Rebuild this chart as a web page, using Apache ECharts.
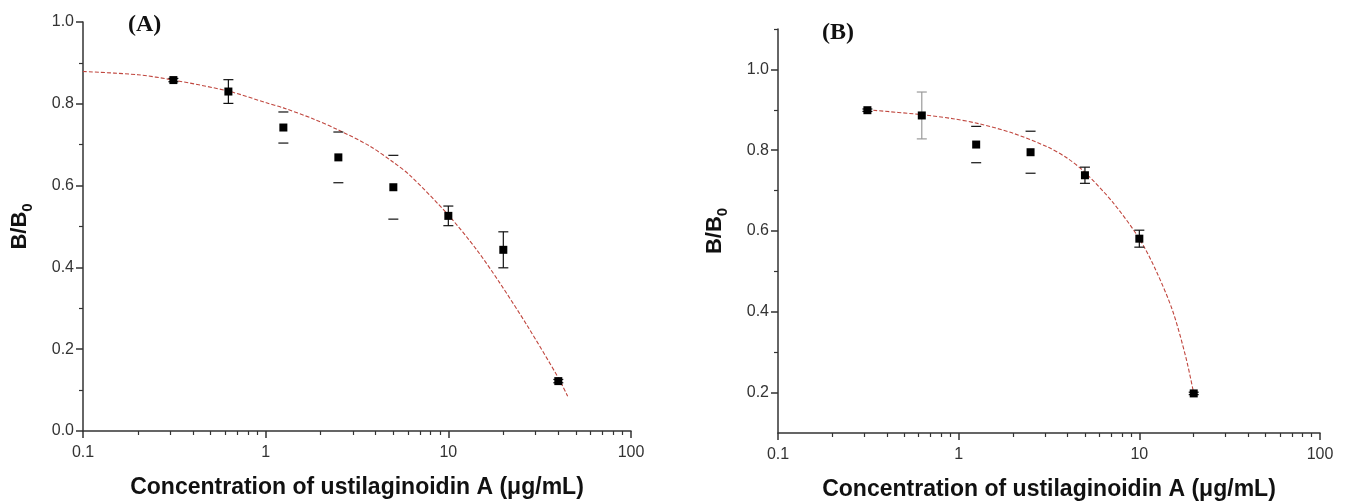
<!DOCTYPE html>
<html>
<head>
<meta charset="utf-8">
<script src="https://cdn.jsdelivr.net/npm/echarts@6/dist/echarts.min.js"></script>
<style>
  html, body { margin: 0; padding: 0; background: #fff; }
  #chart { width: 1349px; height: 501px; }
</style>
</head>
<body>
<div id="chart"></div>
<script>
// panel A - measured points (concentration, B/B0, half error bar)
var concA = [0.3125, 0.625, 1.25, 2.5, 5, 10, 20, 40];
var ratioA = [0.858, 0.830, 0.742, 0.669, 0.596, 0.526, 0.443, 0.122];
var errA = [0.004, 0.029, 0.038, 0.062, 0.078, 0.024, 0.044, 0.004];
var stemA = [1, 1, 0, 0, 0, 1, 1, 1]; // 0 = only the caps show in the figure
// panel A - fitted curve
var fitXA = [0.1, 0.2, 0.3125, 0.625, 1, 1.25, 1.8, 2.5, 3.7, 5, 6.2, 10, 14.3, 19, 27, 40, 45];
var fitYA = [0.879, 0.871, 0.858, 0.831, 0.803, 0.79, 0.764, 0.736, 0.697, 0.657, 0.624, 0.528, 0.443, 0.364, 0.258, 0.13, 0.085];

// panel B
var concB = [0.3125, 0.625, 1.25, 2.5, 5, 10, 20];
var ratioB = [0.899, 0.886, 0.814, 0.795, 0.738, 0.581, 0.198];
var errB = [0.003, 0.058, 0.045, 0.052, 0.02, 0.021, 0.003];
var stemB = [1, 2, 0, 0, 1, 1, 1]; // 2 = grey bar
var fitXB = [0.3125, 0.625, 0.93, 1.31, 2, 3.1, 4, 5, 7.1, 10, 12.4, 15.3, 18.1, 20];
var fitYB = [0.9, 0.888, 0.878, 0.865, 0.842, 0.808, 0.78, 0.745, 0.672, 0.581, 0.501, 0.402, 0.287, 0.198];

// ticks
var xMinor = [0.2, 0.3, 0.4, 0.5, 0.6, 0.7, 0.8, 0.9, 2, 3, 4, 5, 6, 7, 8, 9, 20, 30, 40, 50, 60, 70, 80, 90];
var yTicksB = [0.2, 0.4, 0.6, 0.8, 1.0];
var yMinorB = [0.3, 0.5, 0.7, 0.9, 1.1];

var xName = 'Concentration of ustilaginoidin A (\u03bcg/mL)';
var font = 'Arial, "Liberation Sans", sans-serif';

function zip(xs, ys) {
  return xs.map(function (x, i) { return [x, ys[i]]; });
}
function zipErr(xs, ys, es, st) {
  return xs.map(function (x, i) { return [x, ys[i], es[i], st[i]]; });
}

function errorBar(params, api) {
  var x = api.value(0), y = api.value(1), e = api.value(2), stem = api.value(3);
  var hi = api.coord([x, y + e]);
  var lo = api.coord([x, y - e]);
  var col = stem == 2 ? '#9a9a9a' : '#111';
  var w = 5;
  var st = { stroke: col, lineWidth: 1.2 };
  var kids = [
    { type: 'line', shape: { x1: hi[0] - w, y1: hi[1], x2: hi[0] + w, y2: hi[1] }, style: st },
    { type: 'line', shape: { x1: lo[0] - w, y1: lo[1], x2: lo[0] + w, y2: lo[1] }, style: st }
  ];
  if (stem) {
    kids.push({ type: 'line', shape: { x1: hi[0], y1: hi[1], x2: lo[0], y2: lo[1] }, style: st });
  }
  return { type: 'group', children: kids };
}

var axisLineStyle = { color: '#333', width: 1.5 };
var labelStyle = { color: '#333', fontSize: 16, fontFamily: font };

function mainX(grid) {
  return {
    type: 'log', logBase: 10, gridIndex: grid, min: 0.1, max: 100, position: 'bottom',
    name: xName, nameLocation: 'middle', nameGap: 45,
    nameTextStyle: { fontSize: 23, fontWeight: 'bold', color: '#111', fontFamily: font },
    axisLine: { lineStyle: axisLineStyle },
    axisTick: { show: true, inside: false, length: 7, lineStyle: { color: '#333', width: 1.5 } },
    axisLabel: Object.assign({ margin: 14, formatter: function (v) { return String(v); } }, labelStyle),
    splitLine: { show: false }
  };
}
function minorX(grid) {
  return {
    type: 'log', logBase: 10, gridIndex: grid, min: 0.1, max: 100, position: 'bottom',
    axisLine: { show: false },
    axisTick: { show: true, inside: false, length: 4, customValues: xMinor, lineStyle: { color: '#333', width: 1.2 } },
    axisLabel: { show: false },
    splitLine: { show: false }
  };
}
var yName = '{b|B/B}{s|0}';
var yNameStyle = {
  rich: {
    b: { fontSize: 22, fontWeight: 'bold', color: '#111', fontFamily: font, lineHeight: 30, verticalAlign: 'middle' },
    s: { fontSize: 15, fontWeight: 'bold', color: '#111', fontFamily: font, lineHeight: 30, verticalAlign: 'bottom' }
  }
};

var option = {
  animation: false,
  backgroundColor: '#fff',
  grid: [
    { left: 83, top: 22, width: 548, height: 409, outerBoundsMode: 'none', containLabel: false },
    { left: 778, top: 29, width: 542, height: 404, outerBoundsMode: 'none', containLabel: false }
  ],
  xAxis: [mainX(0), minorX(0), mainX(1), minorX(1)],
  yAxis: [
    {
      type: 'value', gridIndex: 0, min: 0, max: 1, interval: 0.2, position: 'left',
      name: yName, nameLocation: 'middle', nameGap: 48, nameTextStyle: yNameStyle,
      axisLine: { show: true, lineStyle: axisLineStyle },
      axisTick: { show: true, inside: false, length: 7, lineStyle: { color: '#333', width: 1.5 } },
      minorTick: { show: true, splitNumber: 2, length: 4, lineStyle: { color: '#333', width: 1.2 } },
      axisLabel: Object.assign({ margin: 9, formatter: function (v) { return v.toFixed(1); } }, labelStyle),
      splitLine: { show: false }
    },
    {
      type: 'value', gridIndex: 1, min: 0.1, max: 1.1, position: 'left',
      name: yName, nameLocation: 'middle', nameGap: 48, nameTextStyle: yNameStyle,
      axisLine: { show: true, lineStyle: axisLineStyle },
      axisTick: { show: true, inside: false, length: 7, customValues: yTicksB, lineStyle: { color: '#333', width: 1.5 } },
      axisLabel: Object.assign({ margin: 9, customValues: yTicksB, formatter: function (v) { return v.toFixed(1); } }, labelStyle),
      splitLine: { show: false }
    },
    {
      type: 'value', gridIndex: 1, min: 0.1, max: 1.1, position: 'left',
      axisLine: { show: false },
      axisTick: { show: true, inside: false, length: 4, customValues: yMinorB, lineStyle: { color: '#333', width: 1.2 } },
      axisLabel: { show: false },
      splitLine: { show: false }
    }
  ],
  graphic: [
    { type: 'text', left: 128, top: 13, style: { text: '(A)', font: 'bold 24px "Liberation Serif", "Times New Roman", serif', fill: '#111' } },
    { type: 'text', left: 822, top: 21, style: { text: '(B)', font: 'bold 24px "Liberation Serif", "Times New Roman", serif', fill: '#111' } }
  ],
  series: [
    {
      type: 'line', xAxisIndex: 0, yAxisIndex: 0, data: zip(fitXA, fitYA),
      showSymbol: false, smooth: 0.3, z: 2,
      lineStyle: { color: '#c0473f', width: 1.1, type: [4, 2] }
    },
    {
      type: 'custom', xAxisIndex: 0, yAxisIndex: 0, data: zipErr(concA, ratioA, errA, stemA),
      renderItem: errorBar, encode: { x: 0, y: 1 }, z: 3
    },
    {
      type: 'scatter', xAxisIndex: 0, yAxisIndex: 0, data: zip(concA, ratioA),
      symbol: 'rect', symbolSize: 8, itemStyle: { color: '#000', opacity: 1 }, z: 4
    },
    {
      type: 'line', xAxisIndex: 2, yAxisIndex: 1, data: zip(fitXB, fitYB),
      showSymbol: false, smooth: 0.3, z: 2,
      lineStyle: { color: '#c0473f', width: 1.1, type: [4, 2] }
    },
    {
      type: 'custom', xAxisIndex: 2, yAxisIndex: 1, data: zipErr(concB, ratioB, errB, stemB),
      renderItem: errorBar, encode: { x: 0, y: 1 }, z: 3
    },
    {
      type: 'scatter', xAxisIndex: 2, yAxisIndex: 1, data: zip(concB, ratioB),
      symbol: 'rect', symbolSize: 8, itemStyle: { color: '#000', opacity: 1 }, z: 4
    }
  ]
};

var myChart = echarts.init(document.getElementById('chart'));
myChart.setOption(option);
</script>
</body>
</html>
